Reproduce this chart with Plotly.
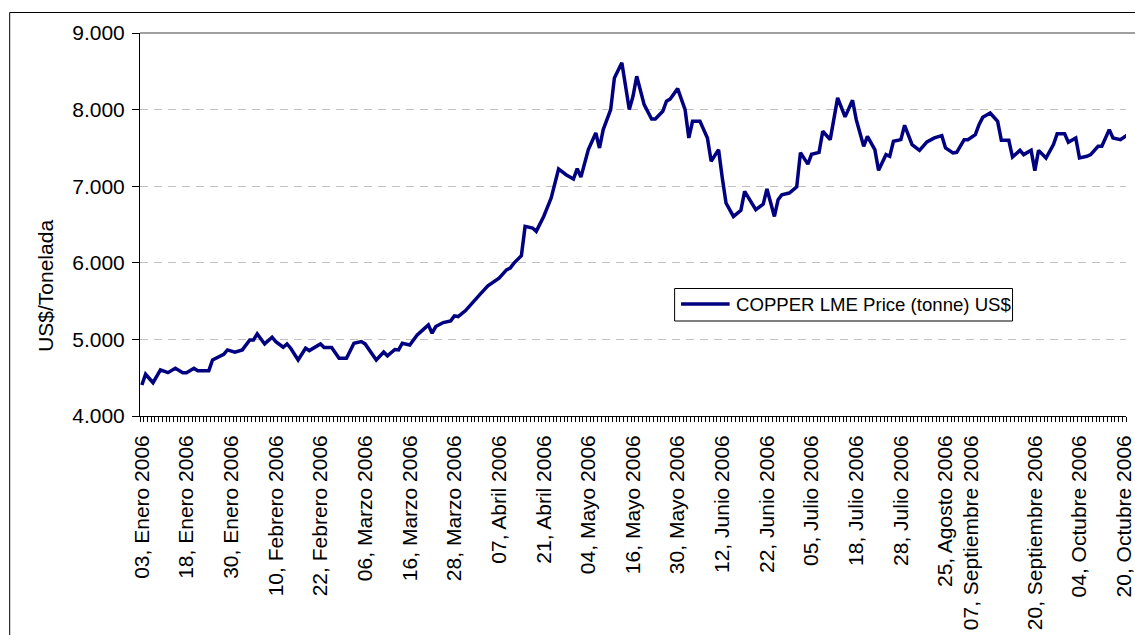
import plotly.graph_objects as go

# ---- data (category index = row position on the category axis) ----
day_index = [0, 1, 3, 5, 7, 9, 11, 12, 14, 15, 18, 19, 22, 23, 25, 27, 29, 30, 31, 33,
             35, 36, 38, 39, 40, 42, 44, 45, 48, 49, 51, 53, 55, 57, 59, 60, 63, 65, 66, 68,
             69, 70, 72, 74, 75, 77, 78, 79, 81, 83, 84, 85, 87, 89, 90, 91, 93, 94, 96, 98,
             99, 100, 102, 103, 105, 106, 108, 110, 112, 114, 116, 117, 118, 120, 122, 123, 124, 126, 127, 129,
             131, 132, 133, 135, 137, 138, 140, 141, 142, 144, 146, 147, 148, 150, 152, 153, 155, 156, 157, 159,
             161, 162, 164, 165, 167, 168, 170, 171, 172, 174, 176, 177, 179, 180, 182, 183, 185, 186, 187, 189,
             191, 192, 194, 195, 197, 198, 200, 201, 202, 204, 205, 207, 209, 211, 213, 215, 216, 218, 219, 221,
             222, 224, 225, 226, 228, 230, 231, 233, 234, 236, 237, 239, 240, 241, 243, 245, 246, 248, 249, 251,
             252, 254, 255, 257, 258, 260, 261, 263, 265]

price_usd = [4405, 4545, 4435, 4601, 4566, 4623, 4566, 4566, 4623, 4592, 4592, 4732, 4806, 4863, 4833, 4863, 4993, 4993, 5072, 4941,
             5029, 4971, 4898, 4941, 4885, 4732, 4885, 4854, 4941, 4893, 4893, 4754, 4754, 4950, 4971, 4941, 4732, 4835, 4786, 4868,
             4863, 4950, 4928, 5059, 5102, 5190, 5081, 5168, 5220, 5242, 5307, 5298, 5376, 5494, 5538, 5595, 5699, 5734, 5800, 5908,
             5931, 5996, 6092, 6475, 6454, 6410, 6605, 6845, 7225, 7150, 7094, 7230, 7118, 7477, 7695, 7499, 7739, 8000, 8414, 8611,
             8000, 8174, 8435, 8065, 7878, 7878, 7978, 8109, 8139, 8274, 8000, 7630, 7847, 7847, 7630, 7325, 7477, 7107, 6780, 6605,
             6684, 6932, 6780, 6693, 6767, 6963, 6605, 6824, 6889, 6911, 6990, 7438, 7288, 7418, 7442, 7717, 7608, 7869, 8153, 7905,
             8122, 7869, 7521, 7651, 7477, 7207, 7412, 7390, 7586, 7608, 7795, 7543, 7468, 7578, 7630, 7660, 7499, 7434, 7442, 7608,
             7608, 7673, 7804, 7899, 7956, 7847, 7599, 7599, 7381, 7468, 7412, 7468, 7203, 7468, 7368, 7543, 7686, 7686, 7573, 7630,
             7368, 7390, 7412, 7521, 7521, 7739, 7630, 7608, 7673]

tick_index = [0, 12, 24, 36, 48, 60, 72, 84, 96, 108, 120, 132, 144, 156, 168, 180,
              192, 204, 216, 223, 240, 252, 264]
tick_labels = ["03, Enero 2006", "18, Enero 2006", "30, Enero 2006", "10, Febrero 2006",
               "22, Febrero 2006", "06, Marzo 2006", "16, Marzo 2006", "28, Marzo 2006",
               "07, Abril 2006", "21, Abril 2006", "04, Mayo 2006", "16, Mayo 2006",
               "30, Mayo 2006", "12, Junio 2006", "22, Junio 2006", "05, Julio 2006",
               "18, Julio 2006", "28, Julio 2006", "25, Agosto 2006", "07, Septiembre 2006",
               "20, Septiembre 2006", "04, Octubre 2006", "20, Octubre 2006"]

y_ticks = [4000, 5000, 6000, 7000, 8000, 9000]
series_name = "COPPER LME Price (tonne) US$"
y_title = "US$/Tonelada"

assert len(day_index) == len(price_usd)

FONT = "Arial, 'Liberation Sans', sans-serif"
NAVY = "#000080"

W, H = 1135, 635
ML, MR, MT, MB = 140, 0, 33, 219
PW, PH = W - ML - MR, H - MT - MB
X_RANGE = [-0.5, 264.5]


def px(x):
    return (x - ML) / PW


def py(y):
    return (MT + PH - y) / PH


fig = go.Figure()
fig.add_trace(go.Scatter(
    x=day_index, y=price_usd, mode="lines", name=series_name,
    line=dict(color=NAVY, width=3.5), showlegend=False,
))
# same series on the label axis (invisible) so that axis is drawn with the plot
fig.add_trace(go.Scatter(
    x=day_index, y=price_usd, mode="lines", xaxis="x2", yaxis="y",
    line=dict(color="rgba(0,0,0,0)", width=0), hoverinfo="skip", showlegend=False,
))

fig.update_layout(
    width=W, height=H,
    margin=dict(l=ML, r=MR, t=MT, b=MB, pad=0),
    paper_bgcolor="white", plot_bgcolor="white",
    font=dict(family=FONT, size=21, color="black"),
    separators=",.",
    showlegend=False,
    # category axis: one tick mark between every category
    xaxis=dict(
        range=X_RANGE, tickmode="linear", tick0=-0.5, dtick=1,
        ticks="outside", ticklen=5, tickcolor="black", tickwidth=1,
        showticklabels=False, showgrid=False, zeroline=False,
        showline=True, linecolor="black", linewidth=1,
    ),
    # labels every 12 categories
    xaxis2=dict(
        range=X_RANGE, overlaying="x", anchor="y", side="bottom",
        tickmode="array", tickvals=tick_index, ticktext=tick_labels,
        tickangle=-90, ticks="", showgrid=False, zeroline=False, showline=False,
        tickfont=dict(size=21, family=FONT), ticklabelstandoff=14,
        ticklabeloverflow="allow",
    ),
    yaxis=dict(
        range=[4000, 9000], tickmode="array", tickvals=y_ticks, tickformat=",d",
        ticks="outside", ticklen=7, tickcolor="black", tickwidth=1,
        showline=True, linecolor="black", linewidth=1, zeroline=False,
        showgrid=True, gridcolor="#C0C0C0", gridwidth=1, griddash="8px,6px",
        tickfont=dict(size=21, family=FONT), ticklabelstandoff=3,
    ),
)

shapes = [
    # top border of plot area
    dict(type="line", xref="paper", yref="paper", x0=0, x1=1.2, y0=1, y1=1,
         line=dict(color="#808080", width=1.5), layer="above"),
    # outer chart frame
    dict(type="rect", xref="paper", yref="paper", x0=px(8.5), x1=1.3, y0=-2, y1=py(12.5),
         line=dict(color="black", width=1), layer="above"),
    # legend box
    dict(type="rect", xref="paper", yref="paper", x0=px(679.5), x1=px(1020.5),
         y0=py(321), y1=py(288.5), line=dict(color="black", width=1),
         fillcolor="white", layer="above"),
    # legend line sample
    dict(type="line", xref="paper", yref="paper", x0=px(686), x1=px(735),
         y0=py(304), y1=py(304), line=dict(color=NAVY, width=3.5), layer="above"),
]
fig.update_layout(shapes=shapes)

fig.add_annotation(
    xref="paper", yref="paper", x=px(739), y=py(304.5), xanchor="left", yanchor="middle",
    text=series_name, showarrow=False, font=dict(size=18.6, family=FONT, color="black"),
)
fig.add_annotation(
    xref="paper", yref="paper", x=px(44), y=py(286), xanchor="center", yanchor="middle",
    text=y_title, textangle=-90, showarrow=False,
    font=dict(size=21, family=FONT, color="black"),
)

fig.write_html("out.html", config={"displayModeBar": False},
               post_script="document.body.style.margin='0';document.body.style.overflow='hidden';")
